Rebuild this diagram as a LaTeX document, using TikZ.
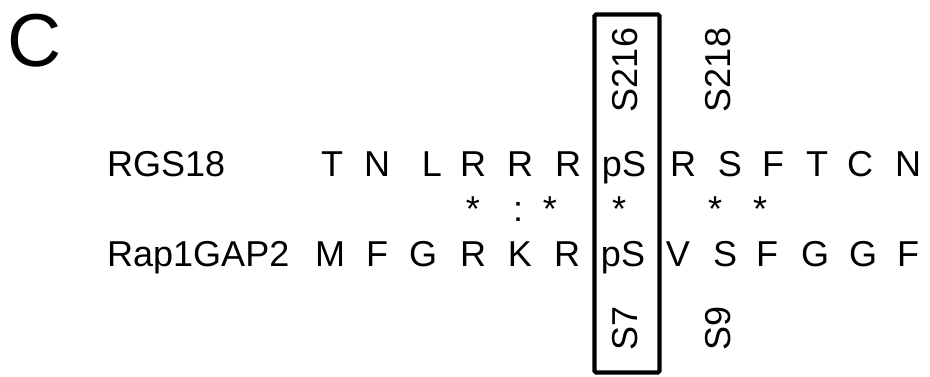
\documentclass[tikz,border=0pt]{standalone}
\usepackage{fontspec}
\setmainfont{Liberation Sans}
\begin{document}
\begin{tikzpicture}[x=1pt,y=-1pt,
  aa/.style={inner sep=0pt, anchor=base, font=\fontsize{36}{40}\selectfont},
  lbl/.style={inner sep=0pt, anchor=base west, font=\fontsize{36}{40}\selectfont},
  rot/.style={inner sep=0pt, anchor=center, rotate=90, font=\fontsize{36}{40}\selectfont},
  panel/.style={inner sep=0pt, anchor=base, font=\fontsize{75}{80}\selectfont},
  hlbox/.style={draw=black, line width=4.2pt, rounded corners=1.5pt, minimum width=65pt, minimum height=358pt, inner sep=0pt}]
\useasboundingbox (0,0) rectangle (930,377);
\node[panel] (C) at (35,67) {C};
% highlight box
\node[hlbox] (box) at (627,193.5) {};
% labels
\node[lbl] (l1) at (107,177) {RGS18};
\node[lbl] (l2) at (107,266) {Rap1GAP2};
% row 1
\node[aa] (a1) at (332,177) {T};
\node[aa] (a2) at (377,177) {N};
\node[aa] (a3) at (432,177) {L};
\node[aa] (a4) at (473,177) {R};
\node[aa] (a5) at (520,177) {R};
\node[aa] (a6) at (568,177) {R};
\node[aa] (a7) at (624,177) {pS};
\node[aa] (a8) at (683,177) {R};
\node[aa] (a9) at (730,177) {S};
\node[aa] (a10) at (773,177) {F};
\node[aa] (a11) at (817,177) {T};
\node[aa] (a12) at (860,177) {C};
\node[aa] (a13) at (908,177) {N};
% conservation row
\node[aa] (c4) at (473,222) {*};
\node[aa] (c5) at (518,222) {:};
\node[aa] (c6) at (550,222) {*};
\node[aa] (c7) at (619,222) {*};
\node[aa] (c9) at (715,222) {*};
\node[aa] (c10) at (760,222) {*};
% row 2
\node[aa] (b1) at (330,266) {M};
\node[aa] (b2) at (377,266) {F};
\node[aa] (b3) at (423,266) {G};
\node[aa] (b4) at (473,266) {R};
\node[aa] (b5) at (520,266) {K};
\node[aa] (b6) at (567,266) {R};
\node[aa] (b7) at (623,266) {pS};
\node[aa] (b8) at (678,266) {V};
\node[aa] (b9) at (725,266) {S};
\node[aa] (b10) at (767,266) {F};
\node[aa] (b11) at (815,266) {G};
\node[aa] (b12) at (863,266) {G};
\node[aa] (b13) at (908,266) {F};
% site labels
\node[rot] (s216) at (625,70) {S216};
\node[rot] (s218) at (718,70) {S218};
\node[rot] (s7) at (625,328) {S7};
\node[rot] (s9) at (718,328) {S9};
\end{tikzpicture}
\end{document}
